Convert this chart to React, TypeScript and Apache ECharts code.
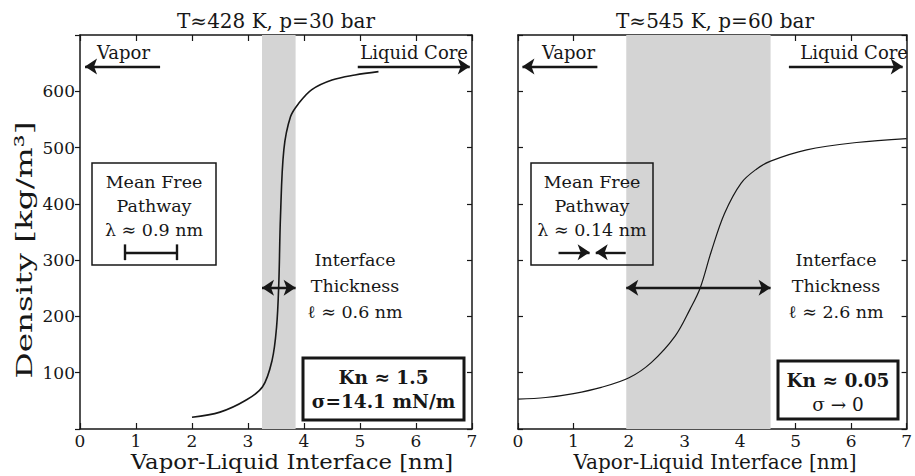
import React, { useEffect, useRef } from "react";
import * as echarts from "echarts";

// Density profiles across the vapor-liquid interface (nm, kg/m^3)
const lowPX = [2.0, 2.5, 2.96, 3.26, 3.43, 3.51, 3.55, 3.58, 3.64, 3.76, 3.91, 4.14, 4.5, 4.91, 5.33];
const lowPY = [21, 30, 51, 75, 122, 181, 259, 377, 496, 555, 579, 603, 620, 629, 635];

const highPX = [0, 0.5, 1.0, 1.5, 2.0, 2.4, 2.83, 3.1, 3.28, 3.48, 3.72, 4.02, 4.3, 4.55, 5.2, 6.1, 7.0];
const highPY = [53, 56, 63, 74, 91, 118, 165, 213, 250, 315, 383, 437, 462, 476, 496, 509, 516];

// Interface bands [start, end] in nm
const lowBand = [3.25, 3.85];
const highBand = [1.95, 4.55];

// Mean free path markers in nm and their height
const lowMfp = [0.8, 1.72];
const highMfp = [0.73, 1.29, 1.4, 1.94];
const mfpLevel = 314;

// Region arrows: vapor [tail, head], liquid [tail, head]
const lowVapor = [1.43, 0.09];
const lowLiquid = [4.96, 6.96];
const highVapor = [1.43, 0.08];
const highLiquid = [4.88, 6.93];
const regionLevel = 644;
const thicknessLevel = 251;

const titles = ["T≈428 K, p=30 bar", "T≈545 K, p=60 bar"];
const xName = "Vapor-Liquid Interface [nm]";
const yName = "Density [kg/m³]";
const yTicks = [0, 100, 200, 300, 400, 500, 600, 700];
const mfpText = [
  ["Mean Free", "Pathway", "λ ≈ 0.9 nm"],
  ["Mean Free", "Pathway", "λ ≈ 0.14 nm"],
];
const thickText = [
  ["Interface", "Thickness", "ℓ ≈ 0.6 nm"],
  ["Interface", "Thickness", "ℓ ≈ 2.6 nm"],
];
const knText = [
  ["Kn ≈ 1.5", "σ=14.1 mN/m"],
  ["Kn ≈ 0.05", "σ → 0"],
];

const FONT = '"DejaVu Serif", serif';
const INK = "#171717";

function pairs(xs: number[], ys: number[]) {
  return xs.map((x, i) => [x, ys[i]]);
}

function txt(text: string, x: number, y: number, size: number, bold = false, align = "center", sx = 1) {
  return {
    type: "text",
    x,
    y,
    z: 20,
    scaleX: sx,
    style: {
      text,
      font: `${bold ? "bold " : ""}${size}px ${FONT}`,
      fill: INK,
      textAlign: align,
      align,
      textVerticalAlign: "middle",
      verticalAlign: "middle",
    },
  };
}

function box(x: number, y: number, w: number, h: number, lw: number) {
  return {
    type: "rect",
    z: 15,
    shape: { x, y, width: w, height: h },
    style: { fill: "none", stroke: INK, lineWidth: lw },
  };
}

function xAxes(grid: number) {
  const base = {
    gridIndex: grid,
    type: "value",
    min: 0,
    max: 7,
    interval: 1,
    axisLine: { show: true, onZero: false, lineStyle: { color: INK, width: 1.5 } },
    axisTick: { show: true, inside: true, length: 6, lineStyle: { color: INK, width: 1.2 } },
    splitLine: { show: false },
  };
  return [
    {
      ...base,
      position: "bottom",
      axisLabel: { show: true, margin: 3, fontFamily: FONT, fontSize: 17, color: INK },
    },
    { ...base, position: "top", axisLabel: { show: false } },
  ];
}

function yAxes(grid: number, labels: boolean) {
  const base = {
    gridIndex: grid,
    type: "value",
    min: 0,
    max: 700,
    interval: 100,
    axisLine: { show: true, onZero: false, lineStyle: { color: INK, width: 1.5 } },
    splitLine: { show: false },
  };
  return [
    {
      ...base,
      position: "left",
      axisTick: { show: true, inside: !labels, length: 5, lineStyle: { color: INK, width: 1.2 } },
      axisLabel: {
        show: labels,
        margin: 5,
        fontFamily: FONT,
        fontSize: 17,
        color: INK,
        formatter: (v: number) => (v === yTicks[0] || v === yTicks[yTicks.length - 1] ? "" : String(v)),
      },
    },
    {
      ...base,
      position: "right",
      axisTick: { show: true, inside: true, length: 5, lineStyle: { color: INK, width: 1.2 } },
      axisLabel: { show: false },
    },
  ];
}

const arrowLine = { color: INK, width: 2.4, type: "solid" };

function panelSeries(
  idx: number,
  xs: number[],
  ys: number[],
  band: number[],
  vapor: number[],
  liquid: number[],
  extra: any[],
  lineWidth: number
) {
  const ai = idx * 2;
  return [
    {
      type: "line",
      xAxisIndex: ai,
      yAxisIndex: ai,
      data: [],
      silent: true,
      markArea: {
        silent: true,
        itemStyle: { color: "#d4d4d4" },
        data: [[{ xAxis: band[0] }, { xAxis: band[1] }]],
      },
      z: 1,
    },
    {
      type: "line",
      xAxisIndex: ai,
      yAxisIndex: ai,
      data: pairs(xs, ys),
      smooth: 0.35,
      symbol: "none",
      lineStyle: { color: INK, width: lineWidth },
      z: 5,
      silent: true,
    },
    {
      type: "line",
      xAxisIndex: ai,
      yAxisIndex: ai,
      data: [],
      z: 6,
      silent: true,
      markLine: {
        silent: true,
        symbol: ["none", "arrow"],
        symbolSize: 12,
        label: { show: false },
        lineStyle: arrowLine,
        data: [
          [{ coord: [vapor[0], regionLevel] }, { coord: [vapor[1], regionLevel] }],
          [{ coord: [liquid[0], regionLevel] }, { coord: [liquid[1], regionLevel] }],
          [{ coord: [band[0], thicknessLevel], symbol: "arrow" }, { coord: [band[1], thicknessLevel] }],
          ...extra,
        ],
      },
    },
  ];
}

// Mean free path I-beam for the low-pressure case
const capH = 14;
const lowMfpLines = [
  [{ coord: [lowMfp[0], mfpLevel], symbol: "none" }, { coord: [lowMfp[1], mfpLevel], symbol: "none" }],
  [{ coord: [lowMfp[0], mfpLevel - capH], symbol: "none" }, { coord: [lowMfp[0], mfpLevel + capH], symbol: "none" }],
  [{ coord: [lowMfp[1], mfpLevel - capH], symbol: "none" }, { coord: [lowMfp[1], mfpLevel + capH], symbol: "none" }],
];
// Two facing arrows for the high-pressure case
const highMfpLines = [
  [{ coord: [highMfp[0], mfpLevel] }, { coord: [highMfp[1], mfpLevel] }],
  [{ coord: [highMfp[3], mfpLevel] }, { coord: [highMfp[2], mfpLevel] }],
];

const G0 = { left: 80, top: 35, width: 392, height: 394 };
const G1 = { left: 518, top: 35, width: 394, height: 394 };

function panelGraphics(
  i: number,
  g: typeof G0,
  mfpBox: number[],
  knBox: number[],
  thickX: number,
  nameX: number,
  nameScale: number
) {
  const cx = g.left + g.width / 2;
  const mx = mfpBox[0] + mfpBox[2] / 2;
  const kx = knBox[0] + knBox[2] / 2;
  const ky = knBox[1];
  return [
    txt(titles[i], cx, 21, 20),
    txt(xName, nameX, 462, 20, false, "center", nameScale),
    box(mfpBox[0], mfpBox[1], mfpBox[2], mfpBox[3], 1.5),
    txt(mfpText[i][0], mx, 182, 17.5),
    txt(mfpText[i][1], mx, 206, 17.5),
    txt(mfpText[i][2], mx, 230, 17.5),
    txt(thickText[i][0], thickX, 260, 17.5),
    txt(thickText[i][1], thickX, 286, 17.5),
    txt(thickText[i][2], thickX, 312, 17.5),
    box(knBox[0], knBox[1], knBox[2], knBox[3], 3),
    txt(knText[i][0], kx, ky + 19, 18.5, true),
    txt(knText[i][1], kx, ky + 43, 18.5, i === 0),
    txt("Vapor", g.left + 17 + (i === 1 ? 7 : 0), 52, 18, false, "left"),
    txt("Liquid Core", g.left + g.width - 4, 52, 18, false, "right"),
  ];
}

export default function App() {
  const ref = useRef<HTMLDivElement>(null);
  useEffect(() => {
    document.body.style.margin = "0";
    const chart = echarts.init(ref.current!, null, { renderer: "svg" });
    const option: any = {
      animation: false,
      backgroundColor: "#fff",
      grid: [
        { ...G0, containLabel: false },
        { ...G1, containLabel: false },
      ],
      xAxis: [...xAxes(0), ...xAxes(1)],
      yAxis: [...yAxes(0, true), ...yAxes(1, false)],
      series: [
        ...panelSeries(0, lowPX, lowPY, lowBand, lowVapor, lowLiquid, lowMfpLines, 1.6),
        ...panelSeries(1, highPX, highPY, highBand, highVapor, highLiquid, highMfpLines, 1.2),
      ],
      graphic: [
        ...panelGraphics(0, G0, [92, 163, 124, 102], [303, 358, 161, 62], 355, 292, 1.14),
        ...panelGraphics(1, G1, [531, 163, 122, 102], [778, 361, 120, 58], 836, 715, 1.0),
        {
          type: "text",
          x: 24,
          y: 250,
          rotation: Math.PI / 2,
          scaleX: 1.42,
          z: 20,
          style: {
            text: yName,
            font: `23px ${FONT}`,
            fill: INK,
            textAlign: "center",
            align: "center",
            textVerticalAlign: "middle",
            verticalAlign: "middle",
          },
        },
      ],
    };
    chart.setOption(option);
    return () => chart.dispose();
  }, []);
  return <div ref={ref} style={{ width: 915, height: 476 }} />;
}
